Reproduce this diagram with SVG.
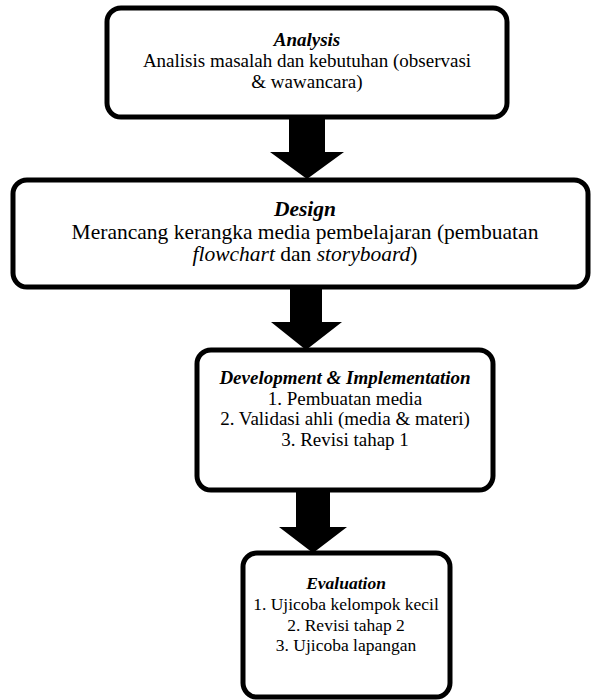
<svg xmlns="http://www.w3.org/2000/svg" width="594" height="700" viewBox="0 0 594 700">
<style>
.box{fill:#fff;stroke:#000;stroke-width:5}
.t{font-size:19px;fill:#000;text-anchor:middle}
.d{font-size:21.5px}
.e{font-size:17.5px}
.h{font-weight:bold;font-style:italic}
.i{font-style:italic}
.arr{fill:#000}
</style>
<rect width="594" height="700" fill="#fff"/>
<g id="connectors">
<polygon class="arr" points="289,117 325,117 325,152 344,152 307,179 270,152 289,152"/>
<polygon class="arr" points="290,287 322,287 322,322 342,322 306,350 271,322 290,322"/>
<polygon class="arr" points="296,490 330,490 330,527 347,527 313,553 279,527 296,527"/>
</g>
<g id="analysis" font-family="Liberation Serif, Times New Roman, serif">
<rect class="box" x="107" y="8" width="400" height="109" rx="14"/>
<text class="t h" x="307" y="46">Analysis</text>
<text class="t" x="307" y="67">Analisis masalah dan kebutuhan (observasi</text>
<text class="t" x="307" y="88">&amp; wawancara)</text>
</g>
<g id="design" font-family="Liberation Serif, Times New Roman, serif">
<rect class="box" x="13" y="180" width="575" height="107" rx="14"/>
<text class="t d h" x="305" y="216">Design</text>
<text class="t d" x="305" y="238.5">Merancang kerangka media pembelajaran (pembuatan</text>
<text class="t d" x="305" y="261"><tspan class="i">flowchart</tspan> dan <tspan class="i">storyboard</tspan>)</text>
</g>
<g id="development" font-family="Liberation Serif, Times New Roman, serif">
<rect class="box" x="197" y="350" width="296" height="140" rx="14"/>
<text class="t h" x="345" y="384">Development &amp; Implementation</text>
<text class="t" x="345" y="405">1. Pembuatan media</text>
<text class="t" x="345" y="425">2. Validasi ahli (media &amp; materi)</text>
<text class="t" x="345" y="446">3. Revisi tahap 1</text>
</g>
<g id="evaluation" font-family="Liberation Serif, Times New Roman, serif">
<rect class="box" x="243" y="553" width="207" height="144" rx="14"/>
<text class="t e h" x="346" y="589">Evaluation</text>
<text class="t e" x="346" y="610">1. Ujicoba kelompok kecil</text>
<text class="t e" x="346" y="631">2. Revisi tahap 2</text>
<text class="t e" x="346" y="651">3. Ujicoba lapangan</text>
</g>
</svg>
